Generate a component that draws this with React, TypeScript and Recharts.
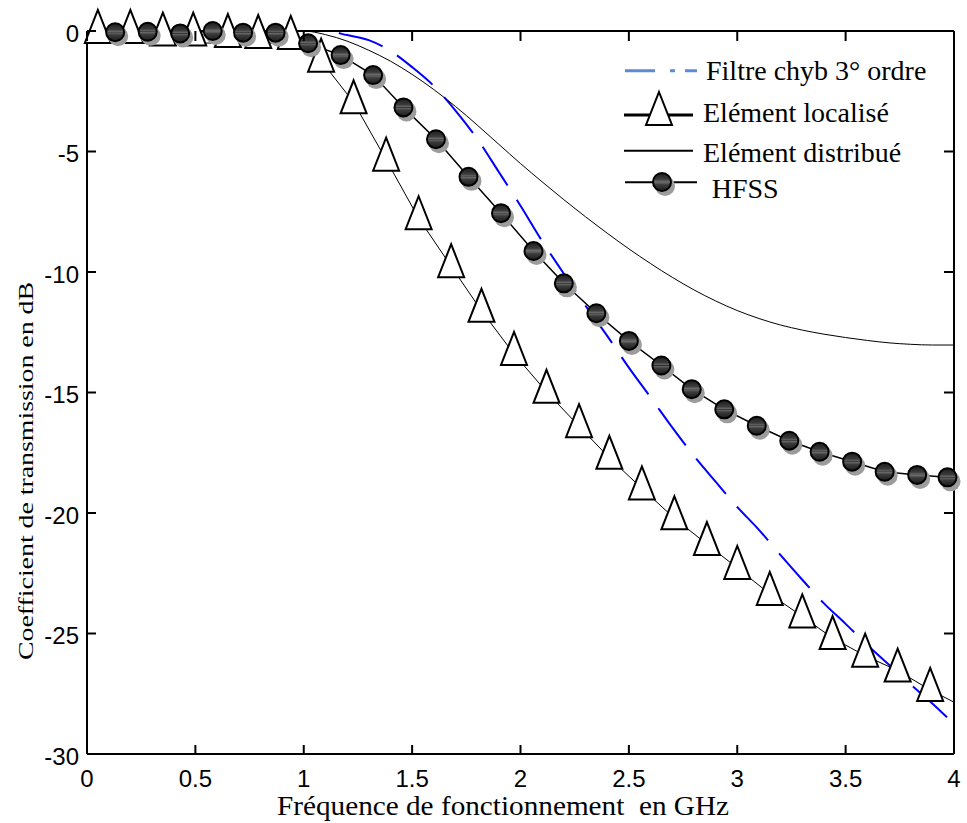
import React from 'react';
import { LineChart, Line, XAxis, YAxis } from 'recharts';

// frequency grid (GHz) shared by the two computed responses
const freqGrid = [0, 0.5, 1.0, 1.1, 1.2, 1.3, 1.4, 1.5, 1.6, 1.7, 1.8, 1.9, 2.0, 2.1, 2.2, 2.3, 2.4, 2.5, 2.6, 2.7, 2.8, 2.9, 3.0, 3.1, 3.2, 3.3, 3.4, 3.5, 3.6, 3.7, 3.8, 3.9, 4.0];
const filtreDb = [0, 0, 0, 0, -0.17, -0.38, -0.83, -1.5, -2.28, -3.3, -4.47, -5.85, -7.25, -8.72, -10.07, -11.4, -12.65, -13.97, -15.2, -16.45, -17.63, -18.7, -19.75, -20.7, -21.75, -22.77, -23.75, -24.6, -25.48, -26.3, -27.12, -27.9, -28.76];
const distribueDb = [0, 0, 0, -0.15, -0.42, -0.8, -1.25, -1.8, -2.43, -3.13, -3.9, -4.7, -5.5, -6.26, -7.0, -7.71, -8.39, -9.04, -9.65, -10.22, -10.74, -11.2, -11.6, -11.93, -12.2, -12.41, -12.58, -12.72, -12.84, -12.94, -13.0, -13.03, -13.03];

// lumped element model: triangle markers and the underlying trace
const localiseX = [0.05, 0.2, 0.35, 0.49, 0.65, 0.79, 0.94, 1.08, 1.23, 1.38, 1.53, 1.68, 1.82, 1.97, 2.12, 2.27, 2.41, 2.56, 2.71, 2.86, 3.0, 3.15, 3.3, 3.44, 3.59, 3.74, 3.89];
const localiseDb = [-0.04, -0.04, -0.15, -0.15, -0.21, -0.25, -0.29, -1.23, -2.96, -5.34, -7.77, -9.76, -11.61, -13.4, -14.97, -16.4, -17.71, -18.98, -20.22, -21.29, -22.28, -23.36, -24.29, -25.19, -25.92, -26.54, -27.34];
const localiseLineX = [0, 0.94, 1.08, 1.23, 1.38, 1.53, 1.68, 1.82, 1.97, 2.12, 2.27, 2.41, 2.56, 2.71, 2.86, 3.0, 3.15, 3.3, 3.44, 3.59, 3.74, 3.89, 4.0];
const localiseLineDb = [-0.5, -0.5, -1.23, -2.96, -5.34, -7.77, -9.76, -11.61, -13.4, -14.97, -16.4, -17.71, -18.98, -20.22, -21.29, -22.28, -23.36, -24.29, -25.19, -25.92, -26.54, -27.34, -27.85];

// HFSS simulation
const hfssX = [0.13, 0.28, 0.43, 0.58, 0.72, 0.87, 1.02, 1.17, 1.32, 1.46, 1.61, 1.76, 1.91, 2.06, 2.2, 2.35, 2.5, 2.65, 2.79, 2.94, 3.09, 3.24, 3.38, 3.53, 3.68, 3.83, 3.97];
const hfssDb = [-0.05, -0.03, -0.1, 0, -0.07, -0.07, -0.51, -1.0, -1.83, -3.17, -4.49, -6.05, -7.56, -9.13, -10.47, -11.71, -12.86, -13.88, -14.86, -15.7, -16.38, -17.0, -17.46, -17.87, -18.29, -18.42, -18.52];

const xTicks = [0, 0.5, 1, 1.5, 2, 2.5, 3, 3.5, 4];
const yTicks = [-30, -25, -20, -15, -10, -5, 0];

const toPoints = (xs: number[], ys: number[]) => xs.map((x, i) => ({ x, y: ys[i] }));

const filtreData = toPoints(freqGrid, filtreDb);
const distribueData = toPoints(freqGrid, distribueDb);
const localiseData = toPoints(localiseX, localiseDb);
const localiseLineData = toPoints(localiseLineX, localiseLineDb);
const hfssData = toPoints(hfssX, hfssDb);

const SANS = '"Liberation Sans", Arial, sans-serif';
const SERIF = '"Liberation Serif", "Times New Roman", serif';

const Triangle = ({ cx, cy }: { cx: number; cy: number }) => (
  <polygon
    points={`${cx},${cy - 22} ${cx + 13},${cy + 11} ${cx - 13},${cy + 11}`}
    fill="#fff"
    stroke="#000"
    strokeWidth={2}
  />
);

const Sphere = ({ cx, cy }: { cx: number; cy: number }) => (
  <g>
    <circle cx={cx + 3} cy={cy + 4} r={10} fill="#9c9c9c" />
    <circle cx={cx} cy={cy} r={9} fill="url(#sphereFill)" stroke="#000" strokeWidth={2} />
  </g>
);

const BottomTick = (props: any) => {
  const { x, y, payload } = props;
  return (
    <g>
      <line x1={x} y1={y} x2={x} y2={y - 9} stroke="#000" strokeWidth={2} />
      <text x={x} y={y + 33} textAnchor="middle" fontFamily={SANS} fontSize={24} fill="#000">
        {payload.value}
      </text>
    </g>
  );
};

const LeftTick = (props: any) => {
  const { x, y, payload } = props;
  return (
    <g>
      <line x1={x} y1={y} x2={x + 9} y2={y} stroke="#000" strokeWidth={2} />
      <text x={x - 8} y={y + 10.8} textAnchor="end" fontFamily={SANS} fontSize={24} fill="#000">
        {payload.value}
      </text>
    </g>
  );
};

const TopTick = (props: any) => (
  <line x1={props.x} y1={props.y} x2={props.x} y2={props.y + 10} stroke="#000" strokeWidth={2} />
);

const RightTick = (props: any) => (
  <line x1={props.x} y1={props.y} x2={props.x - 10} y2={props.y} stroke="#000" strokeWidth={2} />
);

export default function App() {
  return (
    <div style={{ position: 'absolute', left: 0, top: 0, width: 967, height: 823, background: '#fff' }}>
      <svg width={0} height={0} style={{ position: 'absolute' }}>
        <defs>
          <linearGradient id="sphereFill" x1="0" y1="0" x2="0" y2="1">
            <stop offset="0" stopColor="#1a1a1a" />
            <stop offset="0.35" stopColor="#3c3c3c" />
            <stop offset="0.47" stopColor="#6a6a6a" />
            <stop offset="0.5" stopColor="#2a2a2a" />
            <stop offset="0.53" stopColor="#6a6a6a" />
            <stop offset="0.65" stopColor="#3c3c3c" />
            <stop offset="1" stopColor="#1a1a1a" />
          </linearGradient>
        </defs>
      </svg>

      <LineChart width={967} height={823} margin={{ top: 30, right: 12, left: 27, bottom: 24 }}>
        <XAxis
          dataKey="x"
          type="number"
          domain={[0, 4]}
          ticks={xTicks}
          interval={0}
          height={45}
          tickSize={0}
          tickMargin={0}
          tickLine={false}
          axisLine={{ stroke: '#000', strokeWidth: 2 }}
          tick={BottomTick}
        />
        {/* mirror axes closing the box: top and right, same scales */}
        <XAxis
          xAxisId="top"
          orientation="top"
          dataKey="x"
          type="number"
          domain={[0, 4]}
          ticks={xTicks}
          interval={0}
          height={1}
          tickSize={0}
          tickMargin={0}
          tickLine={false}
          axisLine={{ stroke: '#000', strokeWidth: 2 }}
          tick={TopTick}
        />
        <YAxis
          type="number"
          domain={[-30, 0]}
          ticks={yTicks}
          interval={0}
          width={60}
          tickSize={0}
          tickMargin={0}
          tickLine={false}
          axisLine={{ stroke: '#000', strokeWidth: 2 }}
          tick={LeftTick}
        />
        <YAxis
          yAxisId="right"
          orientation="right"
          type="number"
          domain={[-30, 0]}
          ticks={yTicks}
          interval={0}
          width={1}
          tickSize={0}
          tickMargin={0}
          tickLine={false}
          axisLine={{ stroke: '#000', strokeWidth: 2 }}
          tick={RightTick}
        />

        <Line
          xAxisId="top"
          yAxisId="right"
          data={filtreData}
          dataKey="y"
          type="monotone"
          stroke="#0000ff"
          strokeWidth={2}
          strokeDasharray="46 17"
          dot={false}
          activeDot={false}
          isAnimationActive={false}
        />
        <Line
          data={distribueData}
          dataKey="y"
          type="monotone"
          stroke="#000"
          strokeWidth={1}
          dot={false}
          activeDot={false}
          isAnimationActive={false}
        />
        <Line
          data={localiseLineData}
          dataKey="y"
          type="linear"
          stroke="#000"
          strokeWidth={1}
          dot={false}
          activeDot={false}
          isAnimationActive={false}
        />
        <Line
          data={localiseData}
          dataKey="y"
          type="linear"
          stroke="none"
          dot={(p: any) => <Triangle key={`tri-${p.index}`} cx={p.cx} cy={p.cy} />}
          activeDot={false}
          isAnimationActive={false}
        />
        <Line
          data={hfssData}
          dataKey="y"
          type="linear"
          stroke="#000"
          strokeWidth={1.5}
          dot={(p: any) => <Sphere key={`sph-${p.index}`} cx={p.cx} cy={p.cy} />}
          activeDot={false}
          isAnimationActive={false}
        />
      </LineChart>

      {/* axis titles and legend */}
      <svg
        width={967}
        height={823}
        style={{ position: 'absolute', left: 0, top: 0, pointerEvents: 'none' }}
      >
        <text
          x={277}
          y={815}
          fontFamily={SERIF}
          fontSize={28}
          textLength={452}
          lengthAdjust="spacingAndGlyphs"
          style={{ whiteSpace: 'pre' }}
        >
          Fréquence de fonctionnement  en GHz
        </text>
        <text
          transform="translate(33,471) rotate(-90)"
          textAnchor="middle"
          fontFamily={SERIF}
          fontSize={20}
          textLength={378}
          lengthAdjust="spacingAndGlyphs"
        >
          Coefficient de transmission en dB
        </text>

        <line x1={625} y1={70.7} x2={697} y2={70.7} stroke="#5b8cd2" strokeWidth={3} strokeDasharray="30 15 5 10" />
        <text x={706} y={80} fontFamily={SERIF} fontSize={28}>Filtre chyb 3° ordre</text>

        <line x1={624} y1={115} x2={693} y2={115} stroke="#000" strokeWidth={3} />
        <Triangle cx={659} cy={114} />
        <text x={703} y={121.7} fontFamily={SERIF} fontSize={28}>Elément localisé</text>

        <line x1={624} y1={150.7} x2={693} y2={150.7} stroke="#000" strokeWidth={2} />
        <text x={703} y={161.7} fontFamily={SERIF} fontSize={28}>Elément distribué</text>

        <line x1={625} y1={182.3} x2={697} y2={182.3} stroke="#000" strokeWidth={2} />
        <Sphere cx={662} cy={182} />
        <text x={711.7} y={198.3} fontFamily={SERIF} fontSize={28}>HFSS</text>
      </svg>
    </div>
  );
}
